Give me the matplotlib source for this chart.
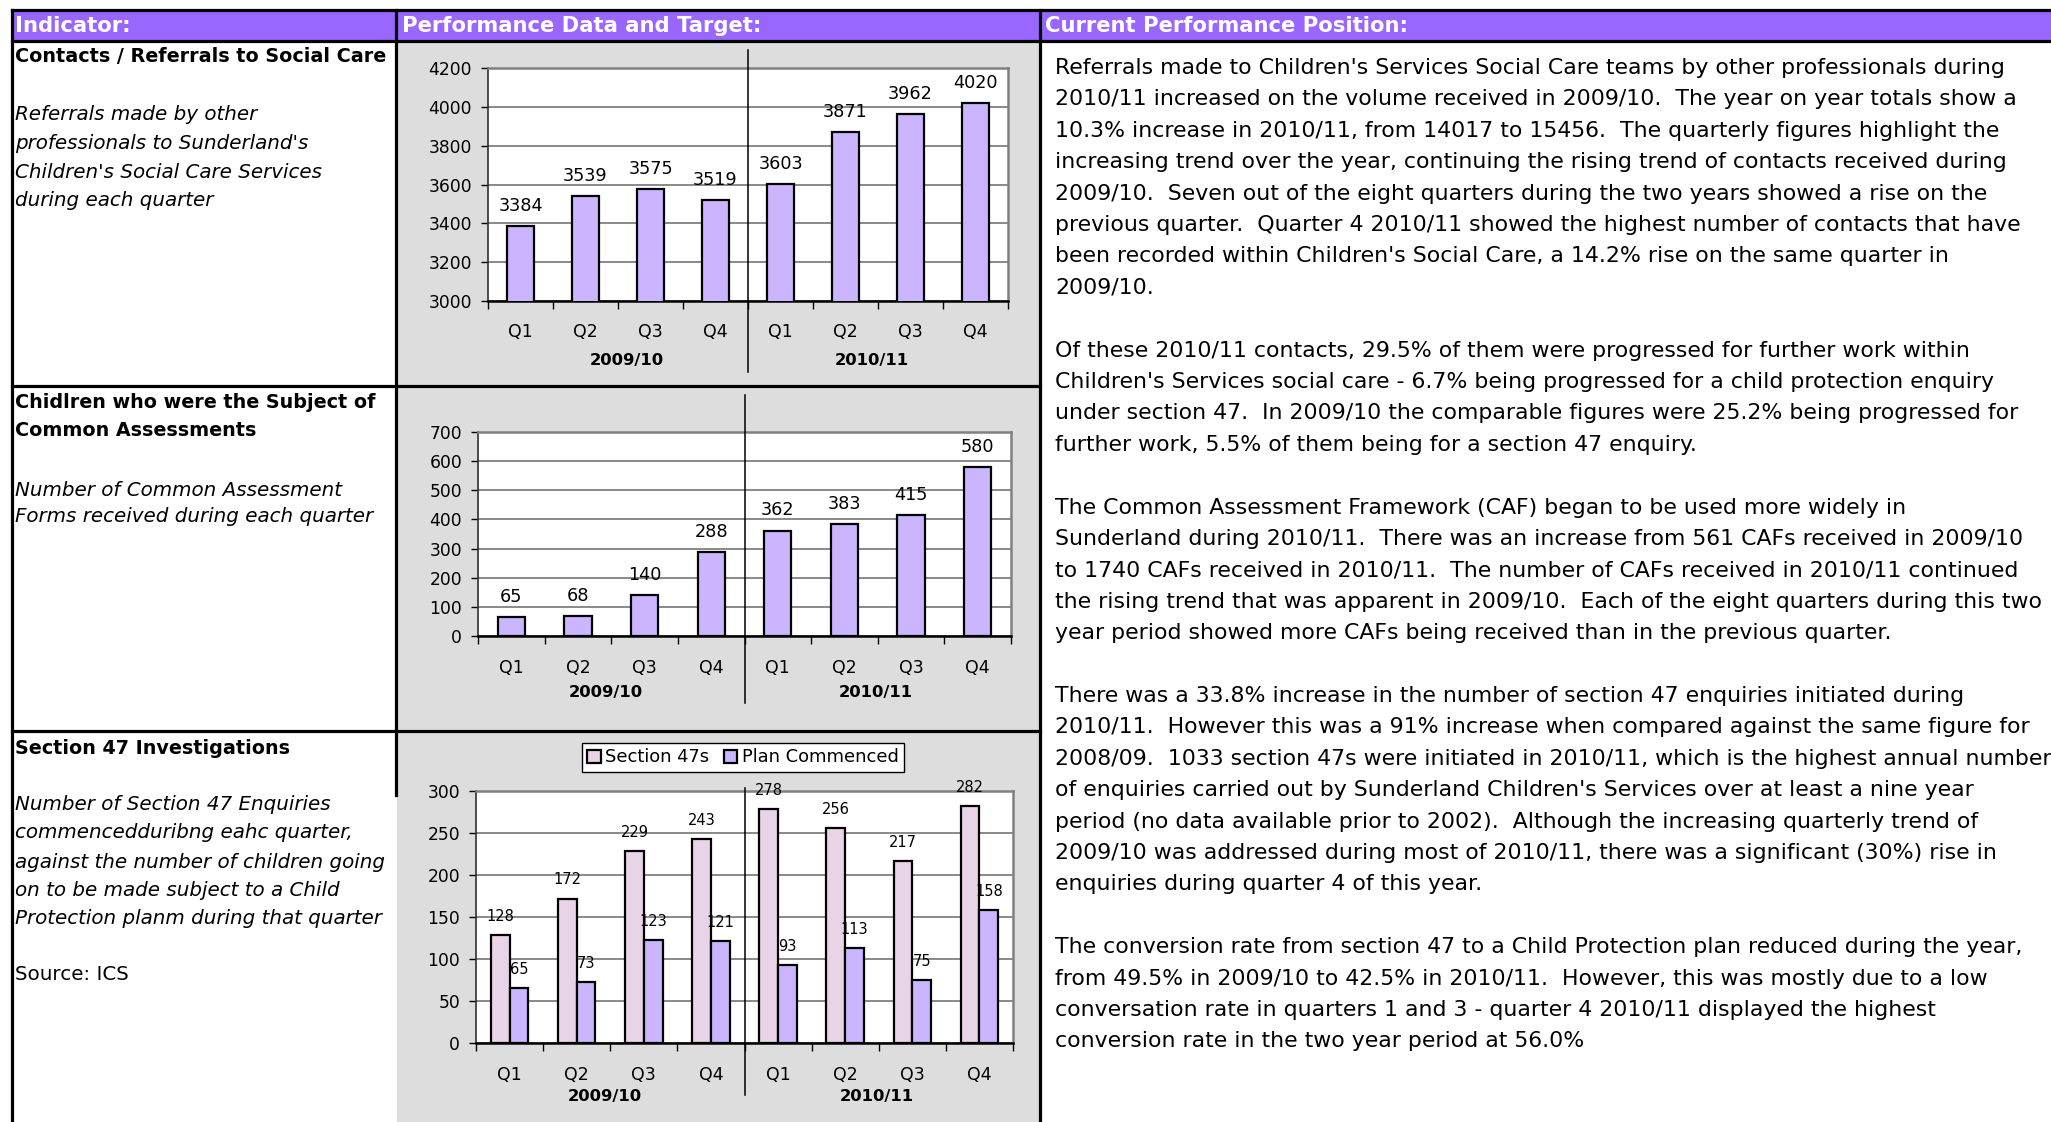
import numpy as np
import matplotlib
matplotlib.use("Agg")
import matplotlib.pyplot as plt
from matplotlib.lines import Line2D
from matplotlib.patches import Rectangle
import matplotlib.transforms as mtransforms

# ---------------- data ----------------
quarters = ['Q1', 'Q2', 'Q3', 'Q4', 'Q1', 'Q2', 'Q3', 'Q4']
years = ['2009/10', '2010/11']
contacts = [3384, 3539, 3575, 3519, 3603, 3871, 3962, 4020]
caf = [65, 68, 140, 288, 362, 383, 415, 580]
s47 = [128, 172, 229, 243, 278, 256, 217, 282]
plan = [65, 73, 123, 121, 93, 113, 75, 158]
c1_ticks = [3000, 3200, 3400, 3600, 3800, 4000, 4200]
c2_ticks = [0, 100, 200, 300, 400, 500, 600, 700]
c3_ticks = [0, 50, 100, 150, 200, 250, 300]
series_names = ['Section 47s', 'Plan Commenced']

headers = ['Indicator:', 'Performance Data and Target:', 'Current Performance Position:']
row1_title = ['Contacts / Referrals to Social Care']
row1_desc = ['Referrals made by other', "professionals to Sunderland's",
             "Children's Social Care Services", 'during each quarter']
row2_title = ['Chidlren who were the Subject of', 'Common Assessments']
row2_desc = ['Number of Common Assessment', 'Forms received during each quarter']
row3_title = ['Section 47 Investigations']
row3_desc = ['Number of Section 47 Enquiries', 'commencedduribng eahc quarter,',
             'against the number of children going', 'on to be made subject to a Child',
             'Protection planm during that quarter']
row3_source = 'Source: ICS'

right_text = [
    "Referrals made to Children's Services Social Care teams by other professionals during",
    "2010/11 increased on the volume received in 2009/10.  The year on year totals show a",
    "10.3% increase in 2010/11, from 14017 to 15456.  The quarterly figures highlight the",
    "increasing trend over the year, continuing the rising trend of contacts received during",
    "2009/10.  Seven out of the eight quarters during the two years showed a rise on the",
    "previous quarter.  Quarter 4 2010/11 showed the highest number of contacts that have",
    "been recorded within Children's Social Care, a 14.2% rise on the same quarter in",
    "2009/10.",
    "",
    "Of these 2010/11 contacts, 29.5% of them were progressed for further work within",
    "Children's Services social care - 6.7% being progressed for a child protection enquiry",
    "under section 47.  In 2009/10 the comparable figures were 25.2% being progressed for",
    "further work, 5.5% of them being for a section 47 enquiry.",
    "",
    "The Common Assessment Framework (CAF) began to be used more widely in",
    "Sunderland during 2010/11.  There was an increase from 561 CAFs received in 2009/10",
    "to 1740 CAFs received in 2010/11.  The number of CAFs received in 2010/11 continued",
    "the rising trend that was apparent in 2009/10.  Each of the eight quarters during this two",
    "year period showed more CAFs being received than in the previous quarter.",
    "",
    "There was a 33.8% increase in the number of section 47 enquiries initiated during",
    "2010/11.  However this was a 91% increase when compared against the same figure for",
    "2008/09.  1033 section 47s were initiated in 2010/11, which is the highest annual number",
    "of enquiries carried out by Sunderland Children's Services over at least a nine year",
    "period (no data available prior to 2002).  Although the increasing quarterly trend of",
    "2009/10 was addressed during most of 2010/11, there was a significant (30%) rise in",
    "enquiries during quarter 4 of this year.",
    "",
    "The conversion rate from section 47 to a Child Protection plan reduced during the year,",
    "from 49.5% in 2009/10 to 42.5% in 2010/11.  However, this was mostly due to a low",
    "conversation rate in quarters 1 and 3 - quarter 4 2010/11 displayed the highest",
    "conversion rate in the two year period at 56.0%",
]

# ---------------- styles ----------------
W, H = 2051, 1122
PURPLE = '#9966FF'
GREY = '#DDDDDD'
BAR = '#CCB5FF'
BAR2 = '#E8D4E6'
plt.rcParams['font.family'] = ['DejaVu Sans']

fig = plt.figure(figsize=(W / 100, H / 100), dpi=100)
fig.patch.set_facecolor('white')


def fx(px):
    return px / W


def fy(py):
    return 1 - py / H


def rect(x0, y0, x1, y1, color):
    fig.add_artist(Rectangle((fx(x0), fy(y1)), (x1 - x0) / W, (y1 - y0) / H,
                             transform=fig.transFigure, facecolor=color,
                             edgecolor='none', zorder=-5))


def line(x0, y0, x1, y1, lw=2.3, color='black'):
    fig.add_artist(Line2D([fx(x0), fx(x1)], [fy(y0), fy(y1)], transform=fig.transFigure,
                          color=color, lw=lw, zorder=5, solid_capstyle='projecting'))


# panels
rect(12, 10, W, 41, PURPLE)
rect(397, 41, 1040, 386, GREY)
rect(397, 386, 1040, 731, GREY)
rect(397, 731, 1040, H, GREY)

# borders
line(12, 10, W, 10)
line(12, 41, W, 41)
line(12, 10, 12, H)
line(396, 10, 396, 795)
line(1040, 10, 1040, H)
line(12, 386, 1040, 386)
line(12, 731, 1040, 731)

# header texts
hdr_x = [15, 402, 1045]
for x, t in zip(hdr_x, headers):
    fig.text(fx(x), fy(26.5), t, color='white', fontsize=15.2, fontweight='bold',
             ha='left', va='center')

# left column texts
def left_lines(lines, ys, **kw):
    for t, y in zip(lines, ys):
        fig.text(fx(15), fy(y), t, ha='left', va='center', color='black', **kw)


left_lines(row1_title, [57], fontsize=13.8, fontweight='bold')
left_lines(row1_desc, [115, 143.5, 172, 200.5], fontsize=14.3, style='italic')
left_lines(row2_title, [403, 430], fontsize=13.8, fontweight='bold')
left_lines(row2_desc, [490, 517], fontsize=14.3, style='italic')
left_lines(row3_title, [748], fontsize=13.8, fontweight='bold')
left_lines(row3_desc, [805, 833, 862, 890, 918], fontsize=14.3, style='italic')
left_lines([row3_source], [975], fontsize=14.3)

# right column text
for i, t in enumerate(right_text):
    if t:
        fig.text(fx(1055), fy(68 + i * 31.4), t, ha='left', va='center',
                 fontsize=15.8, color='black')


# ---------------- charts ----------------
def make_axes(l, t, r, b):
    return fig.add_axes([fx(l), fy(b), (r - l) / W, (b - t) / H])


def style_axes(ax, ticks, ylim, sep, year_y, year_x, qpad):
    ax.set_facecolor('white')
    ax.set_xlim(-0.5, 7.5)
    ax.set_ylim(*ylim)
    ax.set_yticks(ticks)
    ax.set_yticklabels([str(v) for v in ticks], fontsize=12.3)
    ax.set_axisbelow(True)
    ax.yaxis.grid(True, color='#6a6a6a', lw=1.1)
    ax.xaxis.grid(False)
    for s in ['top', 'right']:
        ax.spines[s].set_color('#808080')
        ax.spines[s].set_linewidth(1.8)
    ax.spines['left'].set_color('#303030')
    ax.spines['left'].set_linewidth(1.2)
    ax.spines['bottom'].set_color('black')
    ax.spines['bottom'].set_linewidth(1.8)
    ax.tick_params(axis='y', length=5, width=1, pad=6.5, colors='black')
    ax.set_xticks(range(len(quarters)))
    ax.set_xticklabels(quarters, fontsize=12.5)
    ax.tick_params(axis='x', which='major', length=0, pad=qpad)
    ax.set_xticks(np.arange(-0.5, len(quarters), 1.0), minor=True)
    ax.tick_params(axis='x', which='minor', length=6, width=1, color='black')
    trans = mtransforms.blended_transform_factory(ax.transData, ax.transAxes)
    ax.plot([3.5, 3.5], sep, color='black', lw=1.1, transform=trans, clip_on=False,
            zorder=6)
    for xx, yr in zip(year_x, years):
        ax.text(xx, year_y, yr, transform=trans, ha='center', va='center',
                fontsize=11.8, fontweight='bold')


x = np.arange(len(quarters))

# Chart 1
ax1 = make_axes(488, 68, 1008, 301)
b1 = ax1.bar(x, contacts, width=0.41, color=BAR, edgecolor='black', lw=1.6, zorder=3)
ax1.bar_label(b1, labels=[str(v) for v in contacts], padding=8, fontsize=12.7)
style_axes(ax1, c1_ticks, (3000, 4200), [1.077, -0.305], (301 - 360) / 233,
           [1.64, 5.4], 15.5)

# Chart 2
ax2 = make_axes(478, 432, 1011, 636)
b2 = ax2.bar(x, caf, width=0.41, color=BAR, edgecolor='black', lw=1.6, zorder=3)
ax2.bar_label(b2, labels=[str(v) for v in caf], padding=8, fontsize=12.7)
style_axes(ax2, c2_ticks, (0, 700), [1.181, -0.328], (636 - 692) / 204,
           [1.42, 5.47], 16.5)

# Chart 3
ax3 = make_axes(476, 791, 1013, 1043)
w = 0.28
b3a = ax3.bar(x - w / 2, s47, width=w, color=BAR2, edgecolor='black', lw=1.6, zorder=3,
              label=series_names[0])
b3b = ax3.bar(x + w / 2, plan, width=w, color=BAR, edgecolor='black', lw=1.6, zorder=3,
              label=series_names[1])
ax3.bar_label(b3a, labels=[str(v) for v in s47], padding=8, fontsize=10.5)
ax3.bar_label(b3b, labels=[str(v) for v in plan], padding=8, fontsize=10.5)
style_axes(ax3, c3_ticks, (0, 300), [1.012, -0.206], (1043 - 1097) / 252,
           [1.42, 5.47], 16.5)
leg = ax3.legend(loc='center', bbox_to_anchor=(fx(743), fy(757.5)),
                 bbox_transform=fig.transFigure, ncol=2, fontsize=12.9, frameon=True,
                 fancybox=False, edgecolor='black', framealpha=1, borderpad=0.3,
                 handlelength=0.75, handleheight=0.75, handletextpad=0.25,
                 columnspacing=0.8, borderaxespad=0)
leg.get_frame().set_linewidth(1.0)

fig.savefig('out.png', dpi=100, facecolor='white')
